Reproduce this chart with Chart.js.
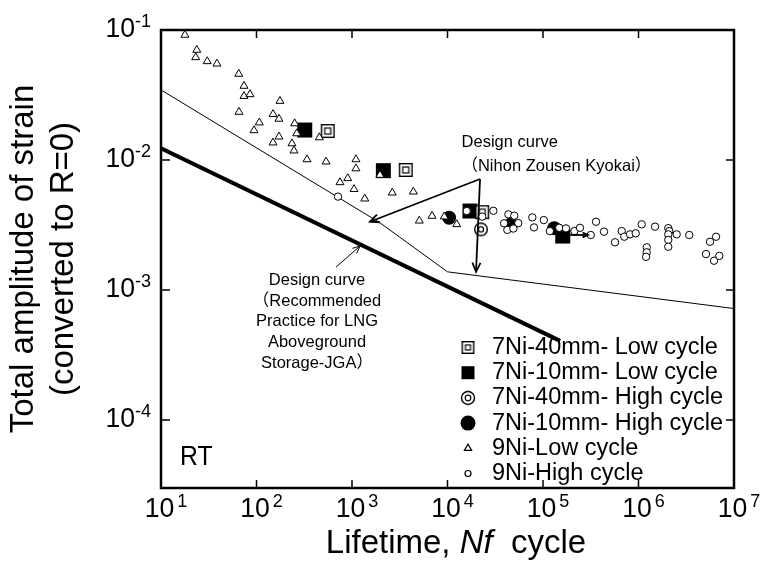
<!DOCTYPE html>
<html><head><meta charset="utf-8">
<script src="https://cdn.jsdelivr.net/npm/chart.js@4.4.0/dist/chart.umd.min.js"></script>
<style>html,body{margin:0;padding:0;background:#fff;}canvas{display:block;}</style>
</head><body>
<canvas id="c" width="767" height="565"></canvas>
<script>
// ---- data: [cycles Nf, total strain amplitude] ----
const ni7mm40Low = [[557,0.0167],[3650,0.00838],[23100,0.00397]];
const ni7mm10Low = [[320,0.0170],[2130,0.00828],[17200,0.00405],[161000,0.00260]];
const ni7mm40High = [[22400,0.00293]];
const ni7mm10High = [[10400,0.00360],[46200,0.00320],[131000,0.00299]];
const ni9Low = [[17.8,0.0916],[23.7,0.0702],[23.1,0.0616],[30.5,0.0574],[38.5,0.0550],[65.2,0.0459],
  [74,0.0371],[74,0.0310],[85.5,0.0320],[65.6,0.0234],[176,0.0284],[149,0.0225],[172,0.0207],[107,0.0194],
  [94.2,0.0169],[251,0.0191],[264,0.0160],[172,0.0151],[149,0.0136],[235,0.0134],[247,0.0118],[455,0.0149],
  [338,0.0101],[535,0.0097],[1100,0.0101],[1100,0.0086],[748,0.00673],[902,0.00723],[1050,0.00596],
  [1360,0.00504],[2640,0.00560],[4390,0.00570],[5070,0.00341],[6890,0.00371],[12500,0.00320],[9250,0.00367],
  [1960,0.00767]];
const ni9High = [[713,0.00523],[15900,0.00405],[23100,0.00367],[30200,0.00407],[43400,0.00382],[50000,0.00373],
  [39100,0.00326],[55100,0.00327],[42300,0.00290],[48900,0.00297],[77300,0.00362],[80500,0.00303],[102000,0.00345],
  [118000,0.00284],[148000,0.00301],[174000,0.00298],[213000,0.00284],[244000,0.00301],[316000,0.00265],
  [359000,0.00335],[435000,0.00281],[568000,0.00233],[667000,0.00284],[710000,0.00257],[815000,0.00268],
  [935000,0.00273],[1080000,0.00320],[1220000,0.00213],[1220000,0.00195],[1200000,0.00180],[1490000,0.00307],
  [2050000,0.00299],[2100000,0.00284],[2050000,0.00268],[2050000,0.00243],[2050000,0.00215],[2510000,0.00268],
  [3400000,0.00265],[6490000,0.00257],[5610000,0.00235],[5090000,0.00189],[6180000,0.00168],[7020000,0.00183]];
const nihonCurve = [[10,0.0346],[1950,0.0033],[10000,0.00138],[1e7,0.00072]];
const jgaCurve = [[10,0.0123],[151000,0.000406]];
const xTickExps = [1,2,3,4,5,6,7];
const yTickExps = [-4,-3,-2,-1];
const legendLabels = ['7Ni-40mm- Low cycle','7Ni-10mm- Low cycle','7Ni-40mm- High cycle','7Ni-10mm- High cycle','9Ni-Low cycle','9Ni-High cycle'];
// annotation anchors (data coordinates)
const nihonApex = [21900,0.00714];
const nihonTargets = [[1540,0.00335],[19900,0.00138]];
const jgaArrow = [[680,0.00150],[1213,0.00218]];
const runoutArrow = [[192000,0.00265],[296000,0.00265]];
const nihonText1 = [44800,0.0136];
const nihonText2 = [14000,0.00887];
const jgaTextAt = [430,0.00118];
const rtTextAt = [15.8,5.15e-5];

const FONT = '"Liberation Sans", Arial, "Noto Sans CJK JP", sans-serif';
const toXY = a => a.map(([n,e]) => ({x:n, y:e}));

function dblSquare(outer, inner){
  const s = outer + 2, c = document.createElement('canvas'); c.width = s; c.height = s;
  const g = c.getContext('2d');
  g.fillStyle = '#fff'; g.fillRect(1,1,outer,outer);
  g.strokeStyle = '#000'; g.lineWidth = 1.4; g.strokeRect(1.7,1.7,outer-1.4,outer-1.4);
  const o = (s - inner)/2; g.lineWidth = 1.2; g.strokeRect(o,o,inner,inner);
  return c;
}
function dblCircle(R, r){
  let s = Math.ceil(2*R + 3); if (s % 2) s++;
  const c = document.createElement('canvas'); c.width = s; c.height = s;
  const g = c.getContext('2d');
  g.fillStyle = '#fff'; g.strokeStyle = '#000';
  g.lineWidth = 1.4; g.beginPath(); g.arc(s/2,s/2,R,0,Math.PI*2); g.fill(); g.stroke();
  g.lineWidth = 1.2; g.beginPath(); g.arc(s/2,s/2,r,0,Math.PI*2); g.stroke();
  return c;
}
const dsqData = dblSquare(14,6), dciData = dblCircle(6.3,2.6);
const dsqLeg = dblSquare(13,5), dciLeg = dblCircle(6.5,2.8);

function arrow(ctx, x1,y1,x2,y2, head, lw){
  ctx.lineWidth = lw;
  ctx.beginPath(); ctx.moveTo(x1,y1); ctx.lineTo(x2,y2); ctx.stroke();
  const ang = Math.atan2(y2-y1, x2-x1), a = 0.42;
  ctx.beginPath();
  ctx.moveTo(x2 - head*Math.cos(ang-a), y2 - head*Math.sin(ang-a));
  ctx.lineTo(x2,y2);
  ctx.lineTo(x2 - head*Math.cos(ang+a), y2 - head*Math.sin(ang+a));
  ctx.stroke();
}
// text drawn slightly condensed (the reference face is narrower than Arial)
function condText(ctx, s, x, y, size, sx, align){
  ctx.save();
  ctx.font = size + 'px ' + FONT;
  ctx.textAlign = align;
  ctx.translate(x, y); ctx.scale(sx, 1);
  ctx.fillText(s, 0, 0);
  const w = ctx.measureText(s).width * sx;
  ctx.restore();
  return w;
}

const decor = {
  id: 'decor',
  afterDraw(chart){
    const {ctx, chartArea:a, scales:{x, y}} = chart;
    const P = p => [x.getPixelForValue(p[0]), y.getPixelForValue(p[1])];
    ctx.save();
    ctx.strokeStyle = '#000'; ctx.fillStyle = '#000';
    // inward ticks
    ctx.lineWidth = 1.5;
    xTickExps.forEach(e => {
      const px = x.getPixelForValue(Math.pow(10,e));
      ctx.beginPath(); ctx.moveTo(px,a.bottom); ctx.lineTo(px,a.bottom-8);
      ctx.moveTo(px,a.top); ctx.lineTo(px,a.top+8); ctx.stroke();
    });
    yTickExps.forEach(e => {
      const py = y.getPixelForValue(Math.pow(10,e));
      ctx.beginPath(); ctx.moveTo(a.left,py); ctx.lineTo(a.left+9,py);
      ctx.moveTo(a.right,py); ctx.lineTo(a.right-8,py); ctx.stroke();
    });
    // frame
    ctx.lineWidth = 2.5;
    ctx.strokeRect(a.left, a.top, a.right-a.left, a.bottom-a.top);
    // tick labels
    ctx.textBaseline = 'middle';
    xTickExps.forEach(e => {
      const px = x.getPixelForValue(Math.pow(10,e));
      const w = condText(ctx, '10', px - 1.5, a.bottom + 21, 28, 0.95, 'center');
      condText(ctx, String(e), px - 1.5 + w/2 + 3, a.bottom + 13.5, 19, 0.95, 'left');
    });
    yTickExps.forEach(e => {
      const py = y.getPixelForValue(Math.pow(10,e));
      condText(ctx, '10', a.left - 26, py - 0.5, 28, 0.95, 'right');
      condText(ctx, '-' + Math.abs(e), a.left - 26, py - 8.5, 19, 0.95, 'left');
    });
    // x-axis title with italic Nf
    const parts = [['Lifetime, ',''],['Nf','italic '],['  cycle','']];
    let tw = 0;
    parts.forEach(p => { ctx.font = p[1] + '33px ' + FONT; tw += ctx.measureText(p[0]).width; });
    let tx = 456 - tw/2;
    ctx.textBaseline = 'alphabetic'; ctx.textAlign = 'left';
    parts.forEach(p => { ctx.font = p[1] + '33px ' + FONT; ctx.fillText(p[0], tx, 553); tx += ctx.measureText(p[0]).width; });
    // annotations
    ctx.font = '16.5px ' + FONT; ctx.textBaseline = 'middle';
    let q = P(nihonText1); ctx.textAlign = 'center'; ctx.fillText('Design curve', q[0], q[1]);
    q = P(nihonText2); ctx.textAlign = 'left'; ctx.fillText('（Nihon Zousen Kyokai）', q[0], q[1]);
    const apex = P(nihonApex);
    nihonTargets.forEach(t => { const tp = P(t); arrow(ctx, apex[0], apex[1], tp[0], tp[1], 10, 1.8); });
    q = P(jgaTextAt); ctx.textAlign = 'center';
    ['Design curve','（Recommended','Practice for LNG','Aboveground','Storage-JGA）'].forEach((s,i) => {
      ctx.fillText(s, q[0], q[1] + i*20.6);
    });
    let p1 = P(jgaArrow[0]), p2 = P(jgaArrow[1]);
    arrow(ctx, p1[0], p1[1], p2[0], p2[1], 8, 1);
    p1 = P(runoutArrow[0]); p2 = P(runoutArrow[1]);
    arrow(ctx, p1[0], p1[1], p2[0], p2[1], 6, 1.8);
    // RT
    q = P(rtTextAt);
    condText(ctx, 'RT', q[0], q[1], 27.5, 0.9, 'left');
    // legend
    const lx = a.left + 307, ty = a.left + 331;
    ctx.font = '23.5px ' + FONT; ctx.textAlign = 'left'; ctx.textBaseline = 'middle';
    chart.data.datasets.slice(0,6).forEach((ds, i) => {
      const yy = a.top + 317.5 + i*25.2;
      ctx.lineWidth = 1.2; ctx.strokeStyle = '#000';
      if (i === 0) ctx.drawImage(dsqLeg, lx - dsqLeg.width/2, yy - dsqLeg.height/2);
      else if (i === 1) ctx.fillRect(lx-6.5, yy-6.5, 13, 13);
      else if (i === 2) ctx.drawImage(dciLeg, lx - dciLeg.width/2, yy - dciLeg.height/2);
      else if (i === 3) { ctx.beginPath(); ctx.arc(lx, yy, 7.5, 0, Math.PI*2); ctx.fill(); }
      else if (i === 4) { const r = 4.2; ctx.beginPath(); ctx.moveTo(lx, yy-r); ctx.lineTo(lx+0.866*r, yy+r/2); ctx.lineTo(lx-0.866*r, yy+r/2); ctx.closePath(); ctx.stroke(); }
      else { ctx.beginPath(); ctx.arc(lx, yy, 3, 0, Math.PI*2); ctx.stroke(); }
      ctx.fillText(ds.label, ty, yy);
    });
    ctx.restore();
  }
};

new Chart(document.getElementById('c'), {
  type: 'scatter',
  data: { datasets: [
    {label: legendLabels[0], data: toXY(ni7mm40Low), pointStyle: dsqData, pointRadius: 8, order: 2},
    {label: legendLabels[1], data: toXY(ni7mm10Low), pointStyle: 'rect', pointRadius: 10.6, backgroundColor: '#000', borderColor: '#000', borderWidth: 0, order: 3},
    {label: legendLabels[2], data: toXY(ni7mm40High), pointStyle: dciData, pointRadius: 7, order: 2},
    {label: legendLabels[3], data: toXY(ni7mm10High), pointStyle: 'circle', pointRadius: 7, backgroundColor: '#000', borderColor: '#000', borderWidth: 0, order: 3},
    {label: legendLabels[4], data: toXY(ni9Low), pointStyle: 'triangle', pointRadius: 4.6, backgroundColor: '#fff', borderColor: '#000', borderWidth: 1, order: 1},
    {label: legendLabels[5], data: toXY(ni9High), pointStyle: 'circle', pointRadius: 3.7, backgroundColor: '#fff', borderColor: '#000', borderWidth: 1, order: 0},
    {label: 'Design curve (Nihon Zousen Kyokai)', data: toXY(nihonCurve), showLine: true, pointRadius: 0, borderColor: '#000', borderWidth: 1, tension: 0, order: 10},
    {label: 'Design curve (JGA)', data: toXY(jgaCurve), showLine: true, pointRadius: 0, borderColor: '#000', borderWidth: 4, tension: 0, order: 10}
  ]},
  options: {
    responsive: false, animation: false, events: [], devicePixelRatio: 1,
    layout: { padding: {top: 30, right: 33, left: 0, bottom: 0} },
    plugins: { legend: {display: false}, tooltip: {enabled: false} },
    scales: {
      x: { type: 'logarithmic', min: 10, max: 1e7,
           grid: {display: false}, border: {display: false}, ticks: {display: false},
           afterFit: s => { s.height = 77; } },
      y: { type: 'logarithmic', min: 3e-5, max: 0.1,
           grid: {display: false}, border: {display: false}, ticks: {display: false},
           title: { display: true, text: ['Total amplitude of strain', '(converted to R=0)'], color: '#000',
                    font: {family: FONT, size: 33, lineHeight: 1.22}, padding: {top: 4, bottom: 0} },
           afterFit: s => { s.width = 161; } }
    }
  },
  plugins: [decor]
});
</script>
</body></html>
